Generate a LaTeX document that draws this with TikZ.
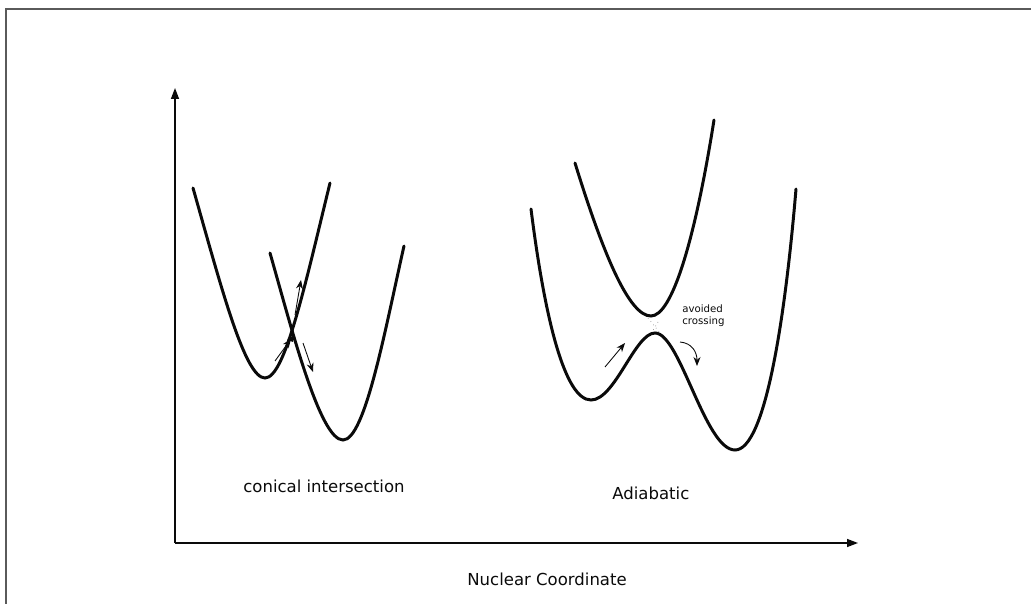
\documentclass[tikz,border=0pt]{standalone}
\usepackage{fontspec}
\setmainfont{DejaVu Sans}
\usepackage{xcolor}
\usepackage{tikz}
\usetikzlibrary{arrows.meta, positioning, calc}
\definecolor{ink}{RGB}{10,10,10}
\definecolor{framegray}{RGB}{90,90,90}
\definecolor{dotgray}{RGB}{150,150,150}
\tikzset{
  surf/.style={draw=ink, line width=1.7pt, line cap=round},
  axis/.style={draw=ink, line width=0.8pt, -{Triangle[length=2.2mm, width=1.6mm]}},
  hop/.style={draw=ink, line width=0.5pt, -{Stealth[length=1.8mm, width=1.4mm]}},
  lbl/.style={font=\fontsize{9.4}{11}\selectfont, text=ink, inner sep=0pt, anchor=base west},
  note/.style={font=\fontsize{5.8}{7}\selectfont, text=ink, inner sep=0pt, anchor=base west, align=left},
}

\begin{document}
\begin{tikzpicture}[x=0.02cm, y=-0.02cm]
\useasboundingbox (0,0) rectangle (1031,604);

% Ramka
\draw[framegray, line width=1.6pt] (6,604) -- (6,9) -- (1031,9);

% Osie
\coordinate (origin) at (175,543);
\coordinate (ytip) at (175,88);
\coordinate (xtip) at (858,543);
\draw[axis] (origin) -- (ytip);
\draw[axis] (origin) -- (xtip);

% Przeciecie stozkowe
\draw[surf] (193,188) .. controls (222,290) and (245,378) .. (265,378)
                      .. controls (285,378) and (305,285) .. (330,183);
\draw[surf] (270,253) .. controls (292,330) and (320,440) .. (343,440)
                      .. controls (365,440) and (385,330) .. (404,246);

\coordinate (ci) at (291,339);
\coordinate (inA) at (275,361);
\coordinate (upA) at (295,315);
\coordinate (upB) at (301,280);
\coordinate (dnA) at (303,343);
\coordinate (dnB) at (313,372);
\draw[hop] (inA) -- (ci);
\fill[ink] (ci) +(-4,1) -- +(3,-4) -- +(2,3) -- cycle;
\draw[hop] (upA) -- (upB);
\draw[hop] (dnA) -- (dnB);

% Unikniete przeciecie
\draw[surf] (575,163) .. controls (605,260) and (630,316) .. (651,316)
                      .. controls (672,316) and (695,240) .. (714,120);
\draw[surf] (531,209) .. controls (545,320) and (565,400) .. (591,400)
                      .. controls (615,400) and (635,333) .. (655,333)
                      .. controls (680,333) and (705,450) .. (735,450)
                      .. controls (765,450) and (785,320) .. (796,189);

\draw[dotgray, dotted, thin] (648,318) -- (660,333);
\draw[dotgray, dotted, thin] (658,322) -- (652,332);

\coordinate (acA) at (605,367);
\coordinate (acB) at (625,343);
\coordinate (acC) at (680,342);
\coordinate (acD) at (697,366);
\draw[hop] (acA) -- (acB);
\draw[hop] (acC) .. controls (692,343) and (697,352) .. (acD);

\node[note] (avoid) at (682,325) {avoided\\crossing};

% Podpisy
\node[lbl] (conical) at (243,492) {conical intersection};
\node[lbl] (adiab) at (612,499) {Adiabatic};
\node[lbl] (nucl) at (467,585) {Nuclear Coordinate};

\end{tikzpicture}
\end{document}
